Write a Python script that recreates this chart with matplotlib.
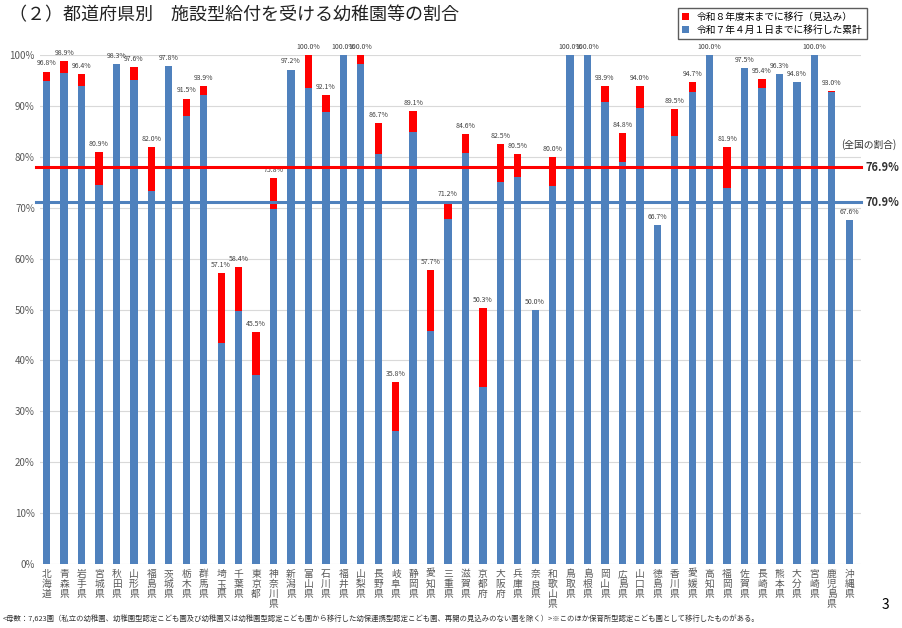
import numpy as np
import matplotlib
matplotlib.use('Agg')
import matplotlib.pyplot as plt

plt.rcParams['font.family'] = ['Noto Sans CJK JP', 'DejaVu Sans']

prefs = ['北海道','青森県','岩手県','宮城県','秋田県','山形県','福島県','茨城県','栃木県','群馬県',
         '埼玉県','千葉県','東京都','神奈川県','新潟県','富山県','石川県','福井県','山梨県','長野県',
         '岐阜県','静岡県','愛知県','三重県','滋賀県','京都府','大阪府','兵庫県','奈良県','和歌山県',
         '鳥取県','島根県','岡山県','広島県','山口県','徳島県','香川県','愛媛県','高知県','福岡県',
         '佐賀県','長崎県','熊本県','大分県','宮崎県','鹿児島県','沖縄県']
# 令和7年4月1日までに移行した累計
done = [94.9,96.6,93.9,74.5,98.3,95.1,73.4,97.8,88.1,92.1,
        43.4,49.7,37.1,69.7,97.2,93.6,88.9,100.0,98.2,80.6,
        26.1,85.0,45.8,67.8,80.7,34.8,75.0,76.0,50.0,74.3,
        100.0,100.0,90.9,79.0,89.7,66.7,84.2,92.7,100.0,73.9,
        97.5,93.6,96.3,94.8,100.0,92.7,67.6]
# 令和8年度末までの合計（見込み）
total = [96.8,98.9,96.4,80.9,98.3,97.6,82.0,97.8,91.5,93.9,
         57.1,58.4,45.5,75.8,97.2,100.0,92.1,100.0,100.0,86.7,
         35.8,89.1,57.7,71.2,84.6,50.3,82.5,80.5,50.0,80.0,
         100.0,100.0,93.9,84.8,94.0,66.7,89.5,94.7,100.0,81.9,
         97.5,95.4,96.3,94.8,100.0,93.0,67.6]
nat_total = 76.9
nat_done = 70.9

done = np.array(done)
total = np.array(total)
extra = total - done
x = np.arange(len(prefs))

fig = plt.figure(figsize=(9.03, 6.28), dpi=100)
ax = fig.add_axes([0.044, 0.102, 0.91, 0.81])
blue = '#4f81bd'
red = '#ff0000'
ax.bar(x, done, width=0.42, color=blue, label='令和７年４月１日までに移行した累計', zorder=2)
ax.bar(x, extra, bottom=done, width=0.42, color=red, label='令和８年度末までに移行（見込み）', zorder=2)
for xi, t in zip(x, total):
    ax.text(xi, t + 0.8, f'{t:.1f}%', ha='center', va='bottom', fontsize=5, color='#404040')

# national lines (drawn where they sit in the source picture)
ax.axhline(78.0, xmin=-0.005, color=red, lw=2.2, zorder=3, clip_on=False)
ax.axhline(71.1, xmin=-0.005, color=blue, lw=2.2, zorder=3, clip_on=False)
ax.text(1.005, 78.0, f'{nat_total}%', transform=ax.get_yaxis_transform(), va='center',
        fontsize=8, fontweight='bold', color='#333333')
ax.text(1.005, 71.1, f'{nat_done}%', transform=ax.get_yaxis_transform(), va='center',
        fontsize=8, fontweight='bold', color='#333333')
ax.text(0.975, 82.5, '(全国の割合)', transform=ax.get_yaxis_transform(), va='center',
        fontsize=7, color='#333333')

ax.set_xlim(-0.4, len(prefs) - 0.3)
ax.set_ylim(0, 100)
ax.set_yticks(np.arange(0, 101, 10))
ax.set_yticklabels([f'{v}%' for v in range(0, 101, 10)], fontsize=7, color='#595959')
ax.set_xticks(x)
ax.set_xticklabels(['\n'.join(p) for p in prefs], fontsize=7, color='#595959', linespacing=1.0, va='top')
ax.tick_params(length=0)
ax.grid(axis='y', color='#d9d9d9', lw=0.8, zorder=0)
for s in ax.spines.values():
    s.set_visible(False)

h, l = ax.get_legend_handles_labels()
leg = fig.legend(h[::-1], l[::-1], loc='upper right', bbox_to_anchor=(0.965, 0.995), fontsize=7,
                 frameon=True, fancybox=False, edgecolor='#333333', handlelength=0.7, handleheight=0.7,
                 borderpad=0.4, labelspacing=0.3)

fig.text(0.01, 0.975, '（２）都道府県別　施設型給付を受ける幼稚園等の割合', fontsize=13, va='center', color='#222222')
fig.text(0.003, 0.01, '<母数：7,623園（私立の幼稚園、幼稚園型認定こども園及び幼稚園又は幼稚園型認定こども園から移行した幼保連携型認定こども園、再開の見込みのない園を除く）>※このほか保育所型認定こども園として移行したものがある。',
         fontsize=5.3, color='#333333')
fig.text(0.985, 0.03, '3', fontsize=10, ha='right')

plt.savefig('out.png', dpi=100)
